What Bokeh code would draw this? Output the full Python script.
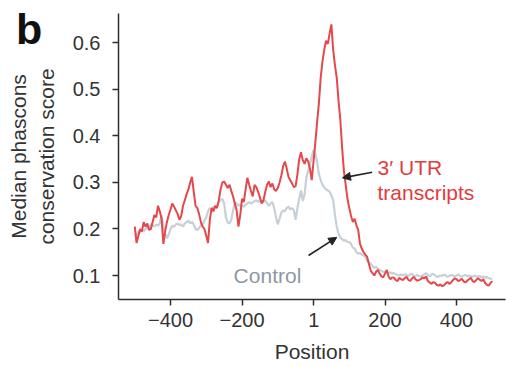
from bokeh.plotting import figure
from bokeh.layouts import column
from bokeh.models import Range1d, FixedTicker, Label, Arrow, NormalHead, Div
from bokeh.embed import file_html
from bokeh.resources import INLINE

# Position relative to the 3' UTR anchor, in 5-nt steps
positions = list(range(-500, 505, 5))

# Median phastCons score of the 3' UTR transcripts
utr_scores = [
    0.205, 0.170, 0.185, 0.200, 0.195, 0.215, 0.205, 0.212, 0.198, 0.200,
    0.215, 0.230, 0.225, 0.250, 0.238, 0.222, 0.168, 0.195, 0.215, 0.230,
    0.242, 0.255, 0.248, 0.240, 0.232, 0.220, 0.228, 0.250, 0.262, 0.275,
    0.285, 0.300, 0.312, 0.280, 0.250, 0.245, 0.232, 0.215, 0.205, 0.200,
    0.185, 0.170, 0.220, 0.245, 0.238, 0.250, 0.245, 0.262, 0.285, 0.300,
    0.302, 0.295, 0.288, 0.295, 0.282, 0.270, 0.255, 0.240, 0.205, 0.230,
    0.265, 0.258, 0.285, 0.310, 0.295, 0.282, 0.270, 0.295, 0.290, 0.280,
    0.268, 0.255, 0.262, 0.280, 0.295, 0.302, 0.290, 0.298, 0.285, 0.282,
    0.288, 0.300, 0.315, 0.335, 0.345, 0.330, 0.312, 0.305, 0.298, 0.290,
    0.292, 0.318, 0.350, 0.365, 0.348, 0.340, 0.352, 0.345, 0.330, 0.305,
    0.345, 0.385, 0.430, 0.470, 0.525, 0.560, 0.585, 0.605, 0.598, 0.620,
    0.640, 0.585, 0.552, 0.525, 0.475, 0.435, 0.375, 0.325, 0.295, 0.265,
    0.245, 0.228, 0.215, 0.222, 0.208, 0.198, 0.168, 0.158, 0.150, 0.145,
    0.140, 0.125, 0.110, 0.105, 0.100, 0.108, 0.112, 0.104, 0.098, 0.096,
    0.104, 0.112, 0.098, 0.092, 0.096, 0.095, 0.090, 0.088, 0.095, 0.092,
    0.090, 0.094, 0.097, 0.091, 0.088, 0.093, 0.097, 0.092, 0.089, 0.090,
    0.092, 0.096, 0.094, 0.098, 0.088, 0.085, 0.082, 0.086, 0.084, 0.080,
    0.078, 0.081, 0.077, 0.079, 0.083, 0.086, 0.082, 0.085, 0.090, 0.094,
    0.092, 0.088, 0.090, 0.093, 0.087, 0.085, 0.089, 0.092, 0.095, 0.088,
    0.086, 0.090, 0.094, 0.091, 0.088, 0.092, 0.084, 0.080, 0.078, 0.084,
    0.088,
]

# Median phastCons score of the control set
control_scores = [
    0.190, 0.185, 0.195, 0.192, 0.198, 0.195, 0.200, 0.205, 0.200, 0.210,
    0.208, 0.205, 0.210, 0.207, 0.212, 0.230, 0.205, 0.190, 0.180, 0.188,
    0.200, 0.207, 0.205, 0.210, 0.212, 0.208, 0.210, 0.205, 0.212, 0.215,
    0.218, 0.212, 0.215, 0.210, 0.200, 0.198, 0.202, 0.208, 0.210, 0.218,
    0.225, 0.238, 0.245, 0.242, 0.248, 0.245, 0.250, 0.258, 0.262, 0.265,
    0.255, 0.225, 0.214, 0.212, 0.220, 0.240, 0.257, 0.255, 0.250, 0.252,
    0.250, 0.248, 0.252, 0.255, 0.258, 0.255, 0.257, 0.260, 0.262, 0.258,
    0.262, 0.260, 0.258, 0.262, 0.255, 0.250, 0.255, 0.258, 0.245, 0.225,
    0.210, 0.222, 0.235, 0.240, 0.238, 0.245, 0.248, 0.242, 0.245, 0.240,
    0.220, 0.245, 0.265, 0.283, 0.260, 0.275, 0.310, 0.325, 0.340, 0.355,
    0.370, 0.362, 0.345, 0.318, 0.305, 0.295, 0.290, 0.285, 0.283, 0.280,
    0.272, 0.262, 0.230, 0.205, 0.190, 0.182, 0.178, 0.175, 0.176, 0.172,
    0.172, 0.168, 0.160, 0.158, 0.150, 0.147, 0.148, 0.145, 0.143, 0.140,
    0.132, 0.128, 0.125, 0.120, 0.117, 0.118, 0.115, 0.112, 0.110, 0.108,
    0.108, 0.106, 0.105, 0.107, 0.104, 0.105, 0.103, 0.101, 0.100, 0.102,
    0.100, 0.103, 0.101, 0.099, 0.102, 0.104, 0.100, 0.098, 0.101, 0.099,
    0.098, 0.100, 0.103, 0.105, 0.101, 0.098, 0.102, 0.104, 0.100, 0.097,
    0.098, 0.100, 0.099, 0.102, 0.100, 0.097, 0.099, 0.101, 0.100, 0.098,
    0.100, 0.102, 0.099, 0.097, 0.100, 0.101, 0.098, 0.100, 0.099, 0.097,
    0.100, 0.098, 0.097, 0.099, 0.096, 0.098, 0.095, 0.097, 0.094, 0.093,
    0.093,
]

x_ticks = [-400, -200, 1, 200, 400]
x_tick_labels = {-400: "\u2212400", -200: "\u2212200", 1: "1", 200: "200", 400: "400"}
y_ticks = [0.1, 0.2, 0.3, 0.4, 0.5, 0.6]

FONT = "Liberation Sans"
RED = "#e5484a"
GREY = "#c7cfd7"
AXIS = "#2e2e2e"

p = figure(
    width=506, height=367,
    x_range=Range1d(-545.5, 537), y_range=Range1d(0.0484, 0.6634),
    output_backend="svg", toolbar_location=None,
    min_border_left=118, min_border_right=1, min_border_top=13, min_border_bottom=68,
)
p.outline_line_color = None
p.grid.visible = False
p.background_fill_color = "white"
p.border_fill_color = "white"

p.line(positions, control_scores, line_color=GREY, line_width=2.2)
p.line(positions, utr_scores, line_color=RED, line_width=2.0)

for ax in (p.xaxis[0], p.yaxis[0]):
    ax.axis_line_color = AXIS
    ax.axis_line_width = 1.5
    ax.major_tick_line_color = AXIS
    ax.major_tick_line_width = 1.5
    ax.major_tick_out = 6
    ax.major_tick_in = 0
    ax.minor_tick_line_color = None
    ax.major_label_text_font = FONT
    ax.major_label_text_font_size = "20px"
    ax.major_label_text_color = "#333333"
    ax.axis_label_text_font = FONT
    ax.axis_label_text_font_size = "21px"
    ax.axis_label_text_font_style = "normal"
    ax.axis_label_text_color = "#333333"

p.xaxis.ticker = FixedTicker(ticks=x_ticks)
p.xaxis.major_label_overrides = x_tick_labels
p.xaxis.major_label_standoff = 7
p.xaxis.axis_label = "Position"
p.xaxis.axis_label_standoff = 10

p.yaxis.ticker = FixedTicker(ticks=y_ticks)
p.yaxis.major_label_standoff = 12
p.yaxis.axis_label = "Median phascons\nconservation score"
p.yaxis.axis_label_standoff = 12

# Series labels
p.add_layout(Label(x=179, y=0.332, text="3\u2032 UTR", text_font=FONT, text_font_size="21px",
                   text_color="#e23c3e", text_baseline="alphabetic"))
p.add_layout(Label(x=179, y=0.2785, text="transcripts", text_font=FONT, text_font_size="21px",
                   text_color="#e23c3e", text_baseline="alphabetic"))
p.add_layout(Label(x=-223.5, y=0.1, text="Control", text_font=FONT, text_font_size="21px",
                   text_color="#8e98a3", text_baseline="alphabetic"))

# Pointer arrows
p.add_layout(Arrow(x_start=164, y_start=0.322, x_end=81, y_end=0.310,
                   line_color="#222222", line_width=1.6,
                   end=NormalHead(size=8, fill_color="#222222", line_color="#222222")))
p.add_layout(Arrow(x_start=-14, y_start=0.143, x_end=65, y_end=0.182,
                   line_color="#222222", line_width=1.6,
                   end=NormalHead(size=8, fill_color="#222222", line_color="#222222")))

# Panel letter, overlaid at the top-left corner of the page
panel_letter = Div(text="b", styles={
    "position": "absolute", "left": "11px", "top": "3px", "z-index": "10",
    "font-family": FONT, "font-size": "43px", "font-weight": "bold",
    "line-height": "1", "color": "#111111",
})

layout = column(p, panel_letter, spacing=0)

open("out.html", "w").write(file_html(layout, INLINE))
